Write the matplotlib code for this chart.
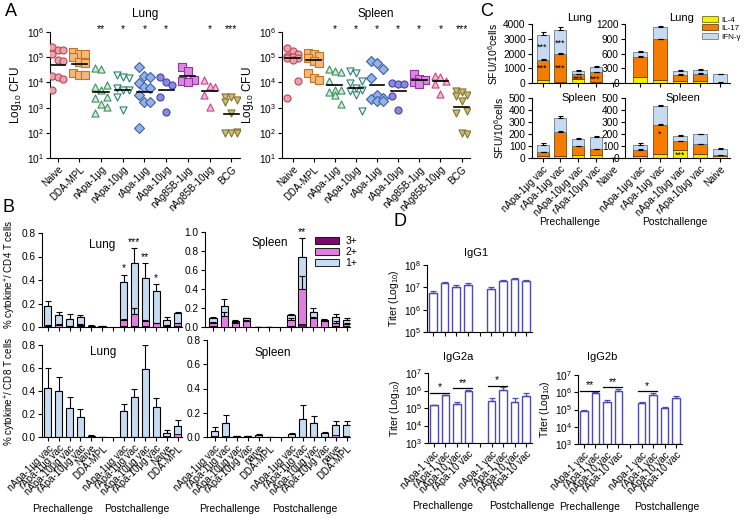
import numpy as np
import matplotlib
matplotlib.use("Agg")
import matplotlib.pyplot as plt
from matplotlib.patches import Patch
from matplotlib.ticker import LogLocator, NullLocator, LogFormatterMathtext

plt.rcParams['font.family'] = ['Liberation Sans', 'DejaVu Sans']
plt.rcParams['mathtext.default'] = 'regular'
plt.rcParams['font.size'] = 7
plt.rcParams['axes.linewidth'] = 0.8
nan = np.nan

# ---------------- panel A: CFU per group ----------------
a_groups = ["Naive", "DDA-MPL", "nApa-1μg", "nApa-10μg", "rApa-1μg", "rApa-10μg",
            "nAg85B-1μg", "nAg85B-10μg", "BCG"]
lung_cfu = [
    [2.6e5, 2.0e5, 1.9e5, 1.4e5, 7.6e4, 6.9e4, 1.8e4, 1.6e4, 1.4e4, 5.2e3],
    [1.6e5, 1.4e5, 1.3e5, 1.0e5, 6.6e4, 5.8e4, 2.3e4, 1.9e4, 1.9e4],
    [3.8e4, 3.5e4, 7.8e3, 6.8e3, 5.0e3, 2.7e3, 2.3e3, 1.35e3, 1.1e3, 6.0e2],
    [1.95e4, 1.66e4, 1.45e4, 5.8e3, 5.2e3, 5.0e3, 2.7e3, 8e2],
    [4.2e4, 1.8e4, 1.66e4, 9.8e3, 6.8e3, 5.8e3, 3.2e3, 1.7e3, 1.6e3, 1.5e2],
    [1.66e4, 1.07e4, 7.8e3, 2.7e3, 6.9e2],
    [4.2e4, 2.9e4, 1.2e4, 1.1e4, 1.07e4],
    [1.2e4, 7.2e3, 6.3e3, 3.2e3, 1.1e3],
    [2.7e3, 2.6e3, 2.0e3, 1.7e3, 6.0e2, 1.1e2, 1.02e2, 1.02e2, 1.0e2],
]
lung_mid = [4.8e4, 5.6e4, 4.3e3, 5.2e3, 4.3e3, 5.0e3, 1.8e4, 4.6e3, 5.6e2]
lung_sig = ["", "", "**", "*", "*", "*", "", "*", "***"]
spleen_cfu = [
    [2.4e5, 1.8e5, 1.3e5, 1.1e5, 1.0e5, 9.5e4, 8.9e4, 8.1e4, 1.1e4, 2.5e3],
    [1.5e5, 1.3e5, 1.1e5, 9.5e4, 7.1e4, 6.0e4, 2.4e4, 1.55e4, 1.3e4],
    [3.3e4, 2.8e4, 2.6e4, 1.1e4, 5.2e3, 4.8e3, 4.3e3, 3.3e3, 1.35e3],
    [2.8e4, 2.4e4, 1.1e4, 9.8e3, 6.2e3, 5.2e3, 4.6e3, 3.3e3, 7.2e2],
    [7.1e4, 6.0e4, 3.3e4, 1.55e4, 3.3e3, 2.5e3, 2.1e3, 1.9e3, 1.8e3],
    [9.8e3, 8.9e3, 8.3e3, 2.9e3, 7.8e2],
    [2.2e4, 1.4e4, 1.2e4, 1.0e4, 8.5e3],
    [1.8e4, 1.6e4, 1.1e4, 8.3e3, 3.5e3],
    [4.6e3, 4.3e3, 3.3e3, 2.9e3, 1.8e3, 7.2e2, 6.2e2, 1.0e2, 9.1e1],
]
spleen_mid = [9.0e4, 8.0e4, 7.6e3, 5.8e3, 7.8e3, 4.6e3, 1.2e4, 1.1e4, 1.05e3]
spleen_sig = ["", "", "*", "*", "*", "*", "*", "*", "***"]

a_markers = ["o", "s", "^", "v", "D", "o", "s", "^", "v"]
a_face = ["#e9a3ab", "#f4b87a", "#d6ecd9", "#eef6f4", "#93b2e6", "#8a8ade",
          "#d98ade", "#f4bad8", "#cdbb78"]
a_edge = ["#b8485a", "#c47420", "#3f8f5f", "#2f7f6f", "#3a62aa", "#4444a8",
          "#9434a4", "#c44888", "#857330"]

# ---------------- panel B: % cytokine+ T cells ----------------
b_pre = ["nApa-1μg vac", "rApa-1μg vac", "nApa-10μg vac", "rApa-10μg vac", "Naive", "DDA-MPL"]
b_pre_s = ["nApa-1μg vac", "rApa-1μg vac", "nApa-10μg vac", "rApa-10μg vac", "naive", "DDA-MPL"]
b_lung_labels = b_pre + [""] + b_pre
b_spl_labels = b_pre_s + [""] + b_pre_s

cd4_lung_1 = [0.18, 0.105, 0.07, 0.085, 0.01, 0.005, nan, 0.383, 0.545, 0.417, 0.31, 0.062, 0.12]
cd4_lung_1e = [0.04, 0.025, 0.04, 0.02, 0.003, 0.001, nan, 0.062, 0.125, 0.128, 0.055, 0.023, 0.005]
cd4_lung_2 = [0.012, 0.02, 0.005, 0.02, 0, 0, nan, 0.062, 0.11, 0.05, 0.03, 0.01, 0.03]
cd4_lung_2e = [0.003, 0.005, 0.002, 0.008, 0, 0, nan, 0.006, 0.05, 0.01, 0.008, 0.004, 0.008]
cd4_lung_3 = [0.004, 0.003, 0.002, 0.005, 0, 0, nan, 0.005, 0.005, 0.005, 0.003, 0.002, 0.005]
cd4_lung_sig = ["", "", "", "", "", "", "", "*", "***", "**", "*", "", ""]

cd4_spl_1 = [0.094, 0.216, 0.066, 0.094, 0.003, 0.003, nan, 0.122, 0.74, 0.153, 0.077, 0.108, 0.076]
cd4_spl_1e = [0.016, 0.074, 0.011, 0.006, 0.001, 0.001, nan, 0.018, 0.2, 0.047, 0.005, 0.027, 0.024]
cd4_spl_2 = [0.042, 0.118, 0.045, 0.065, 0, 0, nan, 0.07, 0.40, 0.09, 0.065, 0.045, 0.03]
cd4_spl_2e = [0.01, 0.035, 0.01, 0.01, 0, 0, nan, 0.02, 0.14, 0.02, 0.005, 0.02, 0.01]
cd4_spl_3 = [0.01, 0.005, 0.005, 0.005, 0, 0, nan, 0.01, 0.035, 0.005, 0.005, 0.01, 0.01]
cd4_spl_sig = ["", "", "", "", "", "", "", "", "**", "", "", "", ""]

cd8_lung_1 = [0.428, 0.40, 0.256, 0.175, 0.01, 0.003, nan, 0.224, 0.35, 0.59, 0.262, 0.038, 0.10]
cd8_lung_1e = [0.168, 0.124, 0.094, 0.065, 0.005, 0.001, nan, 0.061, 0.07, 0.21, 0.073, 0.02, 0.045]
cd8_lung_2 = [0.003, 0.003, 0.003, 0, 0.003, 0, nan, 0, 0, 0, 0, 0.01, 0.025]

cd8_spl_1 = [0.047, 0.115, 0.008, 0.01, 0.02, 0.002, nan, 0.022, 0.15, 0.115, 0.03, 0.096, 0.095]
cd8_spl_1e = [0.035, 0.063, 0.003, 0.002, 0.008, 0.001, nan, 0.013, 0.116, 0.06, 0.01, 0.034, 0.04]
cd8_spl_2 = [0.005, 0.005, 0, 0, 0, 0, nan, 0, 0, 0, 0, 0.015, 0.01]

# ---------------- panel C: ELISPOT ----------------
c_labels = ["nApa-1μg vac", "rApa-1μg vac", "nApa-10μg vac", "rApa-10μg vac", "Naive"]
c_lung_pre = {"IL4": [230, 100, 300, 60, 5], "IL17": [1320, 1850, 290, 670, 5],
              "IFN": [1680, 1640, 250, 360, 10], "err": [200, 180, 60, 60, 0]}
c_lung_post = {"IL4": [120, 55, 40, 35, 5], "IL17": [410, 840, 130, 155, 5],
               "IFN": [100, 240, 75, 70, 170], "err": [30, 15, 25, 30, 5]}
c_spl_pre = {"IL4": [20, 20, 25, 25, 1], "IL17": [26, 200, 76, 51, 1],
             "IFN": [63, 115, 57, 101, 1], "err": [13, 18, 8, 8, 0]}
c_spl_post = {"IL4": [15, 35, 63, 30, 20], "IL17": [53, 243, 79, 87, 7],
              "IFN": [41, 153, 41, 79, 52], "err": [12, 8, 8, 5, 4]}
c_lung_pre_stars = [(0, 2450, "***"), (1, 2700, "***"), (0, 1000, "***"), (1, 1000, "***"),
                    (2, 230, "***"), (3, 230, "***")]
c_spl_post_stars = [(1, 200, "*"), (2, 25, "***")]

# ---------------- panel D: antibody titers ----------------
d_labels = ["nApa-1 vac", "rApa-1 vac", "nApa-10 vac", "rApa-10 vac", "",
            "nApa-1 vac", "rApa-1 vac", "nApa-10 vac", "rApa-10 vac"]
igg1 = [5.5e6, 1.5e7, 1.0e7, 1.3e7, nan, 8.0e6, 1.9e7, 2.3e7, 1.9e7]
igg1_top = [7.0e6, 1.8e7, 1.25e7, 1.5e7, nan, 1.05e7, 2.2e7, 2.6e7, 2.2e7]
igg2a = [1.4e5, 5.2e5, 1.8e5, 9.8e5, nan, 2.4e5, 1.1e6, 2.1e5, 4.8e5]
igg2a_top = [1.5e5, 5.8e5, 2.3e5, 1.08e6, nan, 3.7e5, 1.5e6, 3.5e5, 7.0e5]
igg2b = [8.0e4, 9.0e5, 2.7e5, 1.15e6, nan, 2.3e5, 6.8e5, 1.2e5, 4.6e5]
igg2b_top = [9.0e4, 1.0e6, 3.5e5, 1.6e6, nan, 2.9e5, 9.5e5, 1.45e5, 5.8e5]
igg2a_sig = [(0, 1, "*"), (2, 3, "**"), (5, 6, "*")]
igg2b_sig = [(0, 1, "**"), (2, 3, "**"), (5, 6, "*")]

W, H = 744, 518
fig = plt.figure(figsize=(W / 100, H / 100), dpi=100)
TL = 7.3   # tick label size
XL = 7.0   # rotated category label size


def axpx(l, t, r, b):
    ax = fig.add_axes([l / W, 1 - b / H, (r - l) / W, (b - t) / H])
    ax.spines['top'].set_visible(False)
    ax.spines['right'].set_visible(False)
    ax.tick_params(length=3, width=0.8, labelsize=TL, pad=1.5)
    return ax


def ftext(x, y, s, **kw):
    kw.setdefault("ha", "center")
    kw.setdefault("va", "center")
    fig.text(x / W, 1 - y / H, s, **kw)


# ================= A =================
def cfu_panel(ax, data, mids, sigs, title_x, title):
    for i, vals in enumerate(data):
        v = np.sort(np.array(vals))[::-1]
        off = ((np.arange(len(v)) % 3) - 1) * 0.27
        ax.scatter(i + off, v, marker=a_markers[i], s=26, facecolor=a_face[i],
                   edgecolor=a_edge[i], linewidth=0.8, zorder=3)
        ax.plot([i - 0.35, i + 0.35], [mids[i], mids[i]], color="black", lw=1.2, zorder=4)
        if sigs[i]:
            ax.text(i, 1.25e6, sigs[i], ha="center", va="center", fontsize=7.5, clip_on=False)
    ax.set_yscale("log")
    ax.set_ylim(10, 1e6)
    ax.yaxis.set_major_locator(LogLocator(base=10, numticks=10))
    ax.yaxis.set_minor_locator(NullLocator())
    ax.set_xticks(range(len(a_groups)))
    ax.set_xticklabels(a_groups, rotation=45, ha="right", rotation_mode="anchor", fontsize=XL)
    ax.set_ylabel("Log$_{10}$ CFU", fontsize=8.5, labelpad=2)
    ftext(title_x, 14, title, fontsize=8.5)


ax = axpx(50, 32, 240, 158)
cfu_panel(ax, lung_cfu, lung_mid, lung_sig, 145, "Lung")
ax.set_xlim(-0.35, 8.4)
ax = axpx(282, 32, 470, 158)
cfu_panel(ax, spleen_cfu, spleen_mid, spleen_sig, 376, "Spleen")
ax.set_xlim(-0.5, 8.4)

# ================= B =================
col3, col2, col1 = "#7a0a6e", "#e07ee0", "#c6dcf2"


def cyto_panel(ax, tot, tot_e, two, two_e=None, three=None, sig=None):
    x = np.arange(len(tot))
    ax.bar(x, tot, 0.65, color=col1, edgecolor="black", linewidth=0.8, zorder=2)
    ax.errorbar(x, tot, yerr=[np.zeros(len(tot)), tot_e], fmt="none", ecolor="black",
                elinewidth=0.8, capsize=2, capthick=0.8, zorder=1)
    ax.bar(x, two, 0.65, color=col2, edgecolor="black", linewidth=0.6, zorder=3)
    if two_e is not None:
        ax.errorbar(x, two, yerr=[np.zeros(len(two)), two_e], fmt="none", ecolor="black",
                    elinewidth=0.8, capsize=2, capthick=0.8, zorder=3)
    if three is not None:
        ax.bar(x, three, 0.65, color=col3, edgecolor="black", linewidth=0.6, zorder=4)
    if sig is not None:
        for i, s in enumerate(sig):
            if s:
                ax.text(i, tot[i] + tot_e[i] + 0.01, s, ha="center", va="bottom", fontsize=7.5)
    ax.set_xticks(x)


ax = axpx(42, 233, 182, 327)
cyto_panel(ax, cd4_lung_1, cd4_lung_1e, cd4_lung_2, cd4_lung_2e, cd4_lung_3, cd4_lung_sig)
ax.set_xlim(-0.55, 12.4)
ax.set_ylim(0, 0.8)
ax.set_yticks([0, 0.2, 0.4, 0.6, 0.8])
ax.set_xticklabels([])
ax.set_ylabel("% cytokine$^{+}$/ CD4 T cells", fontsize=7)
ax.yaxis.set_label_coords(-0.17, 0.56)
ftext(102, 245, "Lung", fontsize=8.5)

ax = axpx(205, 232, 350, 327)
cyto_panel(ax, cd4_spl_1, cd4_spl_1e, cd4_spl_2, cd4_spl_2e, cd4_spl_3, cd4_spl_sig)
ax.set_xlim(-0.72, 12.3)
ax.set_ylim(0, 1.0)
ax.set_yticks([0, 0.2, 0.4, 0.6, 0.8, 1.0])
ax.set_xticklabels([])
ftext(270, 243, "Spleen", fontsize=8.5)
ax.legend([Patch(facecolor=col3, edgecolor="black", linewidth=0.6),
           Patch(facecolor=col2, edgecolor="black", linewidth=0.6),
           Patch(facecolor=col1, edgecolor="black", linewidth=0.6)],
          ["3+", "2+", "1+"], loc="upper left", bbox_to_anchor=(315 / W, 1 - 236 / H),
          bbox_transform=fig.transFigure, frameon=False, fontsize=7.5,
          handlelength=2.3, handleheight=0.7, labelspacing=0.1, handletextpad=0.6,
          borderpad=0, borderaxespad=0)

ax = axpx(42, 345, 182, 437)
cyto_panel(ax, cd8_lung_1, cd8_lung_1e, cd8_lung_2)
ax.set_xlim(-0.55, 12.4)
ax.set_ylim(0, 0.8)
ax.set_yticks([0, 0.2, 0.4, 0.6, 0.8])
ax.set_xticklabels(b_lung_labels, rotation=45, ha="right", rotation_mode="anchor", fontsize=XL)
ax.set_ylabel("% cytokine$^{+}$/ CD8 T cells", fontsize=7)
ax.yaxis.set_label_coords(-0.17, 0.5)
ftext(103, 352, "Lung", fontsize=8.5)
ftext(63, 509, "Prechallenge", fontsize=7.5)
ftext(137, 509, "Postchallenge", fontsize=7.5)

ax = axpx(207, 340, 350, 437)
cyto_panel(ax, cd8_spl_1, cd8_spl_1e, cd8_spl_2)
ax.set_xlim(-0.72, 12.3)
ax.set_ylim(0, 0.8)
ax.set_yticks([0, 0.2, 0.4, 0.6, 0.8])
ax.set_xticklabels(b_spl_labels, rotation=45, ha="right", rotation_mode="anchor", fontsize=XL)
ftext(273, 353, "Spleen", fontsize=8.5)
ftext(230, 509, "Prechallenge", fontsize=7.5)
ftext(305, 509, "Postchallenge", fontsize=7.5)

# ================= C =================
c4, c17, cg = "#f5f000", "#f57c00", "#c6daf2"


def elispot(ax, d, stars=None):
    x = np.arange(len(d["IL4"]))
    il4 = np.array(d["IL4"])
    il17 = np.array(d["IL17"])
    ifn = np.array(d["IFN"])
    ax.bar(x, il4, 0.68, color=c4, edgecolor="#555500", linewidth=0.5)
    ax.bar(x, il17, 0.68, bottom=il4, color=c17, edgecolor="#553300", linewidth=0.5)
    ax.bar(x, ifn, 0.68, bottom=il4 + il17, color=cg, edgecolor="#556677", linewidth=0.5)
    tot = il4 + il17 + ifn
    ax.errorbar(x, tot, yerr=[np.zeros(len(x)), d["err"]], fmt="none", ecolor="black",
                elinewidth=0.8, capsize=1.8, capthick=0.8)
    ax.errorbar(x, il4 + il17, yerr=[np.zeros(len(x)), np.array(d["err"]) * 0.3],
                fmt="none", ecolor="black", elinewidth=0.8, capsize=1.8, capthick=0.8)
    if stars:
        for i, y, s in stars:
            ax.text(i, y, s, ha="center", va="center", fontsize=6.5)
    ax.set_xticks(x)


ax = axpx(532, 24, 622, 83)
elispot(ax, c_lung_pre, c_lung_pre_stars)
ax.set_ylim(0, 4000)
ax.set_yticks([0, 1000, 2000, 3000, 4000])
ax.set_xlim(-0.6, 4.5)
ax.set_xticklabels([])
ax.set_ylabel("SFU/10$^{6}$cells", fontsize=7.5, labelpad=2)
ftext(580, 18, "Lung", fontsize=8)

ax = axpx(625, 24, 730, 83)
elispot(ax, c_lung_post)
ax.set_ylim(0, 1200)
ax.set_yticks([0, 300, 600, 900, 1200])
ax.set_xlim(-0.75, 4.5)
ax.set_xticklabels([])
ftext(682, 18, "Lung", fontsize=8)
ax.legend([Patch(facecolor=c4, edgecolor="#555500", linewidth=0.5),
           Patch(facecolor=c17, edgecolor="#553300", linewidth=0.5),
           Patch(facecolor=cg, edgecolor="#556677", linewidth=0.5)],
          ["IL-4", "IL-17", "IFN-γ"], loc="upper left", bbox_to_anchor=(702 / W, 1 - 16 / H),
          bbox_transform=fig.transFigure, frameon=False, fontsize=5.8,
          handlelength=2.0, handleheight=0.7, labelspacing=0.1, handletextpad=0.4,
          borderpad=0, borderaxespad=0)

ax = axpx(532, 98, 622, 158)
elispot(ax, c_spl_pre)
ax.set_ylim(0, 500)
ax.set_yticks([0, 100, 200, 300, 400, 500])
ax.set_xlim(-0.6, 4.5)
ax.set_xticklabels(c_labels, rotation=45, ha="right", rotation_mode="anchor", fontsize=XL)
ax.set_ylabel("SFU/10$^{6}$cells", fontsize=7.5, labelpad=2)
ftext(579, 98, "Spleen", fontsize=8)
ftext(570, 222, "Prechallenge", fontsize=7.5)

ax = axpx(625, 98, 730, 158)
elispot(ax, c_spl_post, c_spl_post_stars)
ax.set_ylim(0, 500)
ax.set_yticks([0, 100, 200, 300, 400, 500])
ax.set_xlim(-0.75, 4.5)
ax.set_xticklabels(c_labels, rotation=45, ha="right", rotation_mode="anchor", fontsize=XL)
ftext(683, 98, "Spleen", fontsize=8)
ftext(675, 222, "Postchallenge", fontsize=7.5)

# ================= D =================
dcol = "#4a4ab8"


def titer(ax, vals, tops, lo, hi, sig=None, labels=True):
    x = np.arange(len(vals))
    v = np.array(vals)
    ax.bar(x, v - lo, 0.65, bottom=lo, color="white", edgecolor=dcol, linewidth=1.0)
    ax.errorbar(x, v, yerr=[np.zeros(len(x)), np.array(tops) - v], fmt="none",
                ecolor=dcol, elinewidth=0.9, capsize=2, capthick=0.9)
    ax.set_yscale("log")
    ax.set_ylim(lo, hi)
    ax.yaxis.set_major_locator(LogLocator(base=10, numticks=10))
    ax.yaxis.set_major_formatter(LogFormatterMathtext())
    ax.yaxis.set_minor_locator(NullLocator())
    ax.set_xlim(-0.5, 8.5)
    ax.set_xticks(x)
    if labels:
        ax.set_xticklabels(d_labels, rotation=45, ha="right", rotation_mode="anchor", fontsize=XL)
    else:
        ax.set_xticklabels([])
    ax.set_ylabel("Titer (Log$_{10}$)", fontsize=7.5, labelpad=2)
    if sig:
        for i, j, s in sig:
            yl = max(tops[i], tops[j]) * 1.25
            ax.plot([i - 0.3, j + 0.3], [yl, yl], color="black", lw=0.9)
            ax.text((i + j) / 2, yl * 1.05, s, ha="center", va="bottom", fontsize=7.5)


ftext(400, 222, "D", fontsize=13)
ax = axpx(427, 265, 532, 332)
titer(ax, igg1, igg1_top, 1e5, 1e8, labels=False)
ftext(476, 253, "IgG1", fontsize=8)

ax = axpx(428, 373, 532, 443)
titer(ax, igg2a, igg2a_top, 1e3, 1e7, igg2a_sig)
ftext(458, 357, "IgG2a", fontsize=8)
ftext(443, 506, "Prechallenge", fontsize=7.5)
ftext(522, 506, "Postchallenge", fontsize=7.5)

ax = axpx(578, 375, 682, 444)
titer(ax, igg2b, igg2b_top, 1e3, 1e7, igg2b_sig)
ftext(602, 357, "IgG2b", fontsize=8)
ftext(590, 507, "Prechallenge", fontsize=7.5)
ftext(667, 507, "Postchallenge", fontsize=7.5)

# panel letters
ftext(11, 12, "A", fontsize=13)
ftext(9, 207, "B", fontsize=13)
ftext(487, 12, "C", fontsize=13)

fig.savefig("out.png", dpi=100)
